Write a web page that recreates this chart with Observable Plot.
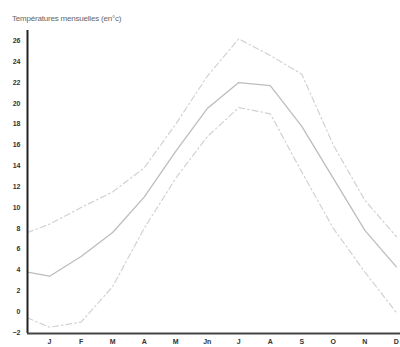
<!DOCTYPE html>
<html><head><meta charset="utf-8">
<script src="https://cdn.jsdelivr.net/npm/d3@7"></script>
<script src="https://cdn.jsdelivr.net/npm/@observablehq/plot@0.6"></script>
<style>
body{margin:0;background:#fff;}
#wrap{position:relative;width:400px;height:347px;}
#title{position:absolute;left:12px;top:14px;font:8px "Liberation Sans",Arial,sans-serif;color:#666;letter-spacing:-0.2px;}
</style></head>
<body><div id="wrap"><div id="title">Températures mensuelles (en°c)</div></div>
<script>
// month positions: 0.3 = start of the curves at the axis, 1..12 = months
const monthPos = [0.3, 1, 2, 3, 4, 5, 6, 7, 8, 9, 10, 11, 12];
const monthLabels = ["J", "F", "M", "A", "M", "Jn", "J", "A", "S", "O", "N", "D"];
const tMax  = [7.6, 8.4, 10.0, 11.5, 13.8, 18.0, 22.6, 26.2, 24.6, 22.8, 16.0, 10.7, 7.2];
const tMean = [3.8, 3.4, 5.3, 7.6, 11.0, 15.4, 19.5, 22.0, 21.7, 17.8, 12.8, 7.8, 4.3];
const tMin  = [-0.6, -1.5, -1.0, 2.4, 8.0, 12.8, 16.8, 19.6, 19.0, 13.4, 8.0, 3.8, -0.1];
const yTicks = [-2, 0, 2, 4, 6, 8, 10, 12, 14, 16, 18, 20, 22, 24, 26];

const mk = arr => monthPos.map((x, i) => ({x, v: arr[i]}));
const chart = Plot.plot({
  width: 400, height: 347,
  marginLeft: 27, marginRight: 0, marginTop: 30, marginBottom: 14,
  style: {fontFamily: "'Liberation Sans', Arial, sans-serif", background: "#fff"},
  x: {domain: [0.3, 12.13], label: null},
  y: {domain: [-2.1, 27], label: null},
  marks: [
    Plot.axisX({ticks: monthLabels.map((_, i) => i + 1), tickFormat: d => monthLabels[d - 1],
      tickSize: 0, tickPadding: 6, fontSize: 7, fontWeight: "bold", fill: "#333", label: null}),
    Plot.axisY({ticks: yTicks, tickSize: 0, tickPadding: 7, fontSize: 7, fontWeight: "bold", fill: "#333", label: null}),
    Plot.line(mk(tMax), {x: "x", y: "v", stroke: "#d2d2d2", strokeWidth: 1.2, strokeDasharray: "6,3,1.5,3"}),
    Plot.line(mk(tMin), {x: "x", y: "v", stroke: "#d2d2d2", strokeWidth: 1.2, strokeDasharray: "6,3,1.5,3"}),
    Plot.line(mk(tMean), {x: "x", y: "v", stroke: "#bdbdbd", strokeWidth: 1.3}),
    Plot.ruleX([0.3], {y1: -2.1, y2: 27, stroke: "#222", strokeWidth: 2}),
    Plot.ruleY([-2.1], {x1: 0.3, x2: 12.13, stroke: "#444", strokeWidth: 2})
  ]
});
document.getElementById("wrap").appendChild(chart);
</script></body></html>
